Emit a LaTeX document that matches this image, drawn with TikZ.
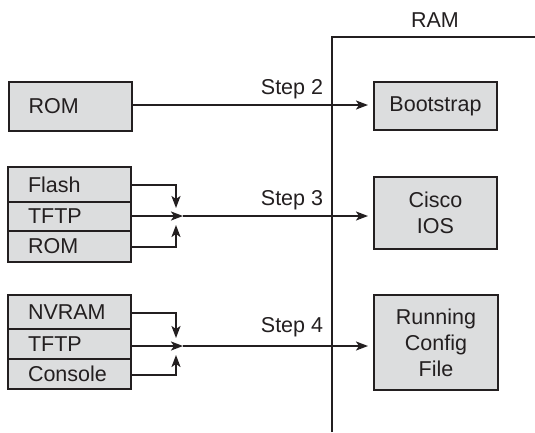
\documentclass[tikz,border=0pt]{standalone}
\usepackage{fontspec}
\setmainfont{Liberation Sans}
\usetikzlibrary{arrows.meta}
\definecolor{boxgray}{HTML}{DCDDDE}
\definecolor{ink}{HTML}{231F20}
\tikzset{
  lw/.style={line width=2pt, draw=ink},
  box/.style={lw, fill=boxgray, align=center, inner sep=0pt, text=ink,
    font=\fontsize{21.5}{26}\selectfont},
  row/.style={lw, fill=boxgray, text width=83pt, inner xsep=20pt, inner ysep=0pt, text=ink,
    minimum width=123pt, align=left, font=\fontsize{21.5}{24}\selectfont},
  arr/.style={lw, -{Stealth[length=12pt,width=9pt,inset=3pt]}},
  lbl/.style={font=\fontsize{21.5}{24}\selectfont, text=ink, anchor=base, inner sep=0pt},
}
\begin{document}
\begin{tikzpicture}[x=1pt,y=-1pt]
\useasboundingbox (0,0) rectangle (535,432);
% RAM boundary
\coordinate (rambot) at (332,432);
\coordinate (ramcorner) at (332,37);
\coordinate (ramright) at (536,37);
\draw[lw] (rambot) -- (ramcorner) -- (ramright);
\node[lbl] (ram) at (435,27) {RAM};
% Left boxes
\node[row, minimum height=49pt] (rom1) at (70,106.5) {ROM};
\node[row, minimum height=35pt] (flash) at (69.5,184.5) {Flash};
\node[row, minimum height=29pt] (tftp1) at (69.5,216.5) {TFTP};
\node[row, minimum height=31pt] (rom2) at (69.5,246.5) {ROM};
\node[row, minimum height=34pt] (nvram) at (69.5,312) {NVRAM};
\node[row, minimum height=30pt] (tftp2) at (69.5,344) {TFTP};
\node[row, minimum height=30pt] (console) at (69.5,374) {Console};
% Right boxes
\node[box, minimum width=123pt, minimum height=48pt] (boot) at (435.5,106) {Bootstrap};
\node[box, minimum width=123pt, minimum height=72pt] (ios) at (435.5,213) {Cisco\\IOS};
\node[box, minimum width=124pt, minimum height=95pt] (run) at (436,342.5) {Running\\Config\\File};
% Junctions
\coordinate (d1) at (176,208);
\coordinate (u1) at (176,225);
\coordinate (j1) at (183,216);
\coordinate (d2) at (176,338);
\coordinate (u2) at (176,355);
\coordinate (j2) at (183,346);
% Connectors
\draw[arr, shorten >=5pt] (rom1.east |- 0,105) -- (boot.west |- 0,105);
\draw[arr] (flash.east |- 0,185) -| (d1);
\draw[arr] (rom2.east |- 0,247) -| (u1);
\draw[arr] (tftp1.east |- j1) -- (j1);
\draw[arr, shorten >=5pt] (j1) -- (ios.west |- j1);
\draw[arr] (nvram.east |- 0,313) -| (d2);
\draw[arr] (console.east |- 0,375) -| (u2);
\draw[arr] (tftp2.east |- j2) -- (j2);
\draw[arr, shorten >=5pt] (j2) -- (run.west |- j2);
% Step labels
\node[lbl] (s2) at (292,94) {Step 2};
\node[lbl] (s3) at (292,205) {Step 3};
\node[lbl] (s4) at (292,332) {Step 4};
\end{tikzpicture}
\end{document}
